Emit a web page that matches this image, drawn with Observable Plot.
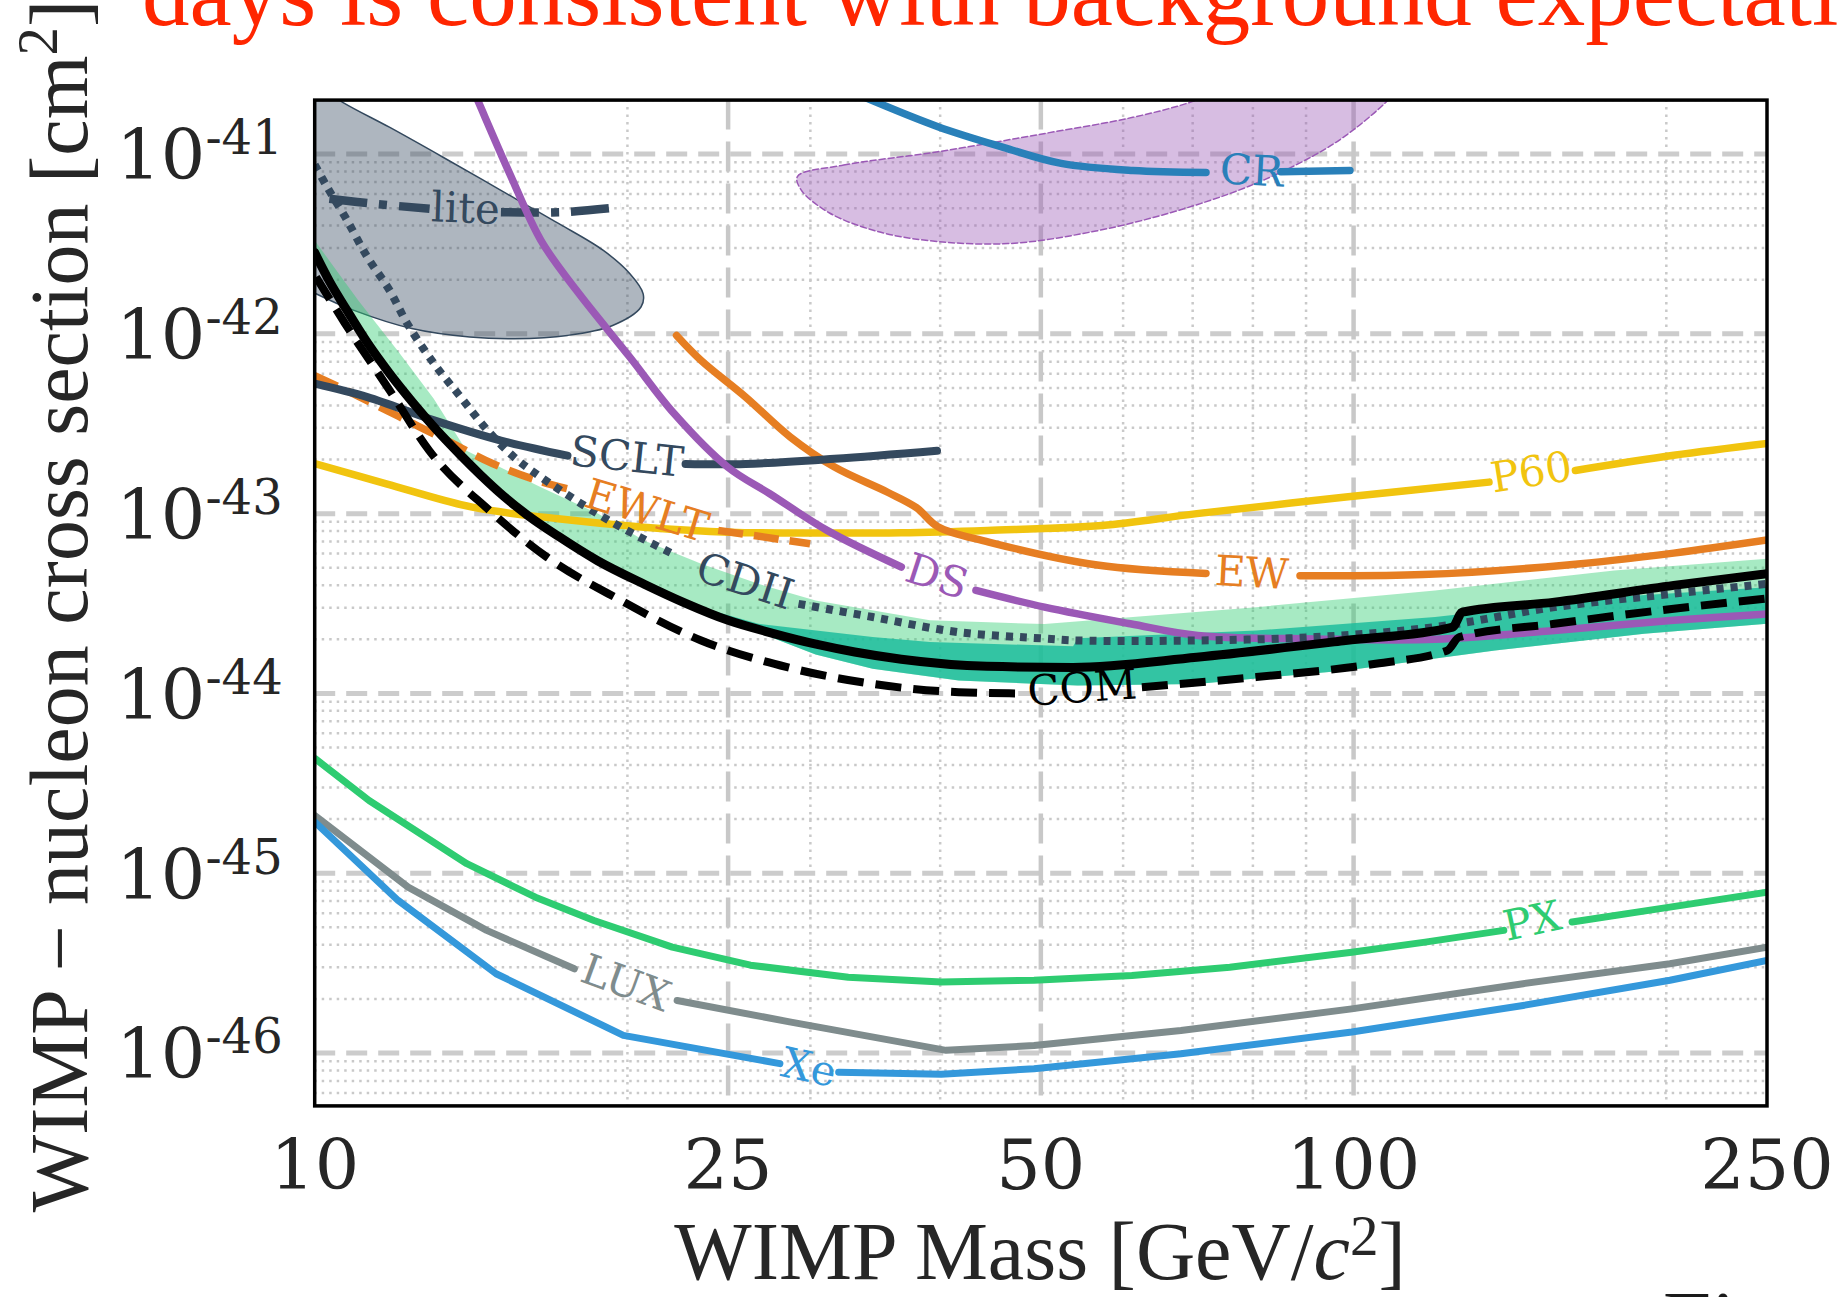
<!DOCTYPE html>
<html>
<head>
<meta charset="utf-8">
<script src="https://cdn.jsdelivr.net/npm/d3@7"></script>
<script src="https://cdn.jsdelivr.net/npm/@observablehq/plot@0.6"></script>
<style>
  html, body { margin: 0; padding: 0; background: #fff; }
  #wrap { position: relative; width: 1838px; height: 1297px; overflow: hidden; background: #fff; }
  #chart { position: absolute; left: 0; top: 0; }
  #title { position: absolute; left: 142px; top: -54px; white-space: nowrap;
           font-family: "Liberation Serif", serif; font-size: 95px; line-height: 95px; color: #ff2600; }
  #foot { position: absolute; left: 1663px; top: 1278px; white-space: nowrap;
          font-family: "Liberation Serif", serif; font-size: 87px; line-height: 87px; color: #1a1a1a; }
</style>
</head>
<body>
<div id="wrap">
  <div id="chart"></div>
  <div id="title">days is consistent with background expectations</div>
  <div id="foot">Fig</div>
</div>
<script>
// ---------------- data (WIMP mass in GeV/c^2, cross section in cm^2) ----------------
const massTicks = [10, 25, 50, 100, 250];
const massMajorGrid = [25, 50, 100];
const massMinorGrid = [20, 30, 40, 60, 70, 80, 90, 200];
const sigmaTicks = [1e-46, 1e-45, 1e-44, 1e-43, 1e-42, 1e-41];
const minorMantissas = [2, 3, 4, 5, 6, 7, 8, 9];
const minorDecades = [-47, -46, -45, -44, -43, -42, -41];

// null = break in the line (where the inline label sits)
const CR = [[33.3,2.15e-41],[39.8,1.42e-41],[46.0,1.09e-41],[52.3,8.87e-42],[61.3,8.1e-42],[72.1,7.9e-42],null,[85.1,7.98e-42],[99.2,8.1e-42]];
const DS = [[14.11,2.5e-41],[14.38,1.94e-41],[15.41,7.76e-42],[16.51,3.31e-42],[17.87,1.74e-42],[20.11,7.41e-43],[22.19,3.59e-43],[24.98,1.815e-43],[27.42,1.29e-43],[31.13,8.07e-44],[36.7,5.05e-44],null,[43.3,3.74e-44],[50.4,3.02e-44],[60.95,2.44e-44],[70.8,2.10e-44],[92.0,2.01e-44],[119.8,2.0e-44],[156.1,2.24e-44],[203.3,2.55e-44],[250,2.77e-44]];
const P60 = [[10,1.90e-43],[11.72,1.466e-43],[14.18,1.086e-43],[17.15,9.36e-44],[20.75,8.41e-44],[25.09,7.89e-44],[30.35,7.8e-44],[36.7,7.83e-44],[44.4,8.07e-44],[57.25,8.59e-44],[70.65,1.0e-43],[98.3,1.236e-43],[135.0,1.497e-43],null,[163.5,1.738e-43],[203.3,2.11e-43],[250,2.455e-43]];
const EW = [[22.3,9.8e-43],[23.55,7.11e-43],[25.99,4.45e-43],[28.69,2.67e-43],[31.65,1.815e-43],[35.6,1.315e-43],[37.95,1.08e-43],[39.8,8.45e-44],[44.55,6.95e-44],[56.65,5.18e-44],[72.1,4.65e-44],null,[88.8,4.52e-44],[116.6,4.58e-44],[160.6,5.18e-44],[203.3,6.03e-44],[250,7.13e-44]];
const EWLT = [[10,5.86e-43],[10.86,4.68e-43],[12.05,3.47e-43],[13.37,2.57e-43],[14.83,1.90e-43],[16.44,1.518e-43],[17.77,1.346e-43],null,[24.46,8.07e-44],[29.98,6.8e-44]];
const SCLT = [[10.03,5.27e-43],[11.24,4.45e-43],[13.03,3.30e-43],[15.11,2.55e-43],[17.51,2.10e-43],null,[22.75,1.89e-43],[25.99,1.89e-43],[31.65,2.02e-43],[39.72,2.24e-43]];
const lite = [[10.33,5.64e-42],[11.44,5.28e-42],[12.9,4.96e-42],null,[15.11,4.75e-42],[17.32,4.75e-42],[19.71,5.07e-42]];
const CDII = [[10,8.73e-42],[10.28,6.55e-42],[10.70,4.46e-42],[11.24,2.67e-42],[11.81,1.74e-42],[12.28,1.138e-42],[13.03,6.82e-43],[13.82,4.45e-43],[14.67,2.90e-43],[15.56,2.06e-43],[16.51,1.595e-43],[18.28,1.086e-43],[19.71,8.41e-44],[22.1,5.98e-44],null,[29.22,3.15e-44],[34.44,2.66e-44],[41.68,2.19e-44],[50.4,2.02e-44],[54.25,1.97e-44],[70.65,1.97e-44],[92.0,2.06e-44],[119.8,2.34e-44],[156.1,3.02e-44],[203.3,3.59e-44],[250,4.07e-44]];
const COM = [[10,2.83e-42],[10.34,1.945e-42],[10.70,1.40e-42],[11.24,8.91e-43],[11.80,6.04e-43],[12.43,4.15e-43],[13.09,2.94e-43],[13.79,2.14e-43],[14.45,1.637e-43],[15.21,1.248e-43],[16.02,9.82e-44],[17.15,7.5e-44],[18.72,5.47e-44],[20.76,4.05e-44],[22.73,3.18e-44],[25.0,2.55e-44],[27.6,2.16e-44],[30.38,1.88e-44],[33.1,1.70e-44],[36.7,1.55e-44],[44.36,1.416e-44],[53.7,1.396e-44],[70.65,1.59e-44],[98.2,1.97e-44],[124.6,2.34e-44],[127.2,2.83e-44],[156.1,3.22e-44],[203.3,3.99e-44],[250,4.63e-44]];
const COMexp = [[10.03,2.07e-42],[10.70,1.138e-42],[11.81,4.84e-43],[12.89,2.24e-43],[14.73,1.042e-43],[16.73,5.73e-44],[19.71,3.29e-44],[23.55,1.97e-44],[28.49,1.40e-44],[34.44,1.13e-44],[41.68,1.016e-44],[47.3,1.0e-44],null,[62.55,1.083e-44],[80.6,1.233e-44],[105.0,1.463e-44],[123.1,1.734e-44],[126.4,2.06e-44],[156.1,2.44e-44],[203.3,2.96e-44],[250,3.37e-44]];
const PX = [[10.01,4.34e-45],[11.28,2.54e-45],[14.01,1.13e-45],[16.31,7.36e-46],[18.57,5.46e-46],[22.09,3.88e-46],[26.27,3.08e-46],[32.63,2.64e-46],[40.09,2.48e-46],[49.25,2.54e-46],[61.18,2.70e-46],[76.0,3.0e-46],[99.6,3.64e-46],[117.2,4.14e-46],[139.5,4.81e-46],null,[162.3,5.35e-46],[201.6,6.48e-46],[250,7.85e-46]];
const LUX = [[10.01,2.09e-45],[12.30,8.37e-46],[14.64,4.81e-46],[17.78,2.94e-46],null,[22.33,1.96e-46],[28.65,1.49e-46],[40.53,1.035e-46],[49.25,1.10e-46],[68.2,1.335e-46],[99.6,1.76e-46],[145.6,2.43e-46],[201.6,3.14e-46],[250,3.88e-46]];
const Xe = [[10.01,1.92e-45],[12.03,7.06e-46],[14.95,2.76e-46],[19.82,1.253e-46],[28.04,8.73e-47],null,[31.94,7.83e-47],[40.09,7.61e-47],[49.25,8.18e-47],[68.2,9.9e-47],[99.6,1.309e-46],[145.6,1.84e-46],[201.6,2.54e-46],[250,3.27e-46]];

// filled regions (outline points)
const liteRegion = [[9.546,2.9e-41],[10.64,1.94e-41],[11.80,1.41e-41],[13.29,9.6e-42],[15.11,6.28e-42],[17.18,4.1e-42],[18.96,2.91e-42],[20.11,2.16e-42],[20.71,1.67e-42],[20.61,1.41e-42],[19.33,1.11e-42],[17.51,9.8e-43],[15.56,9.4e-43],[14.10,9.6e-43],[12.40,1.07e-42],[10.91,1.35e-42],[10.03,1.67e-42],[9.546,1.95e-42]];
const dsRegion = [[29.15,7.5e-42],[32.3,8.68e-42],[39.8,1.03e-41],[49.8,1.285e-41],[61.3,1.6e-41],[69.8,1.95e-41],[77.8,2.5e-41],[111.7,2.5e-41],[107.5,1.95e-41],[99.2,1.318e-41],[91.7,9.85e-42],[79.3,6.62e-42],[66.5,4.7e-42],[55.8,3.68e-42],[46.7,3.18e-42],[39.8,3.26e-42],[35.0,3.68e-42],[31.3,4.7e-42],[29.4,6.3e-42]];
const band2Upper = [[10,3.30e-42],[11.02,1.53e-42],[12.05,7.9e-43],[13.02,4.35e-43],[14.0,2.24e-43],[16.51,1.40e-43],[18.75,9.98e-44],[20.75,7.1e-44],[23.55,5.26e-44],[26.73,4.07e-44],[30.35,3.29e-44],[39.1,2.55e-44],[50.4,2.43e-44],[80.6,3.02e-44],[119.8,3.74e-44],[178.2,4.83e-44],[250,5.61e-44]];
const band2Lower = [[250,2.44e-44],[190.4,2.15e-44],[136.8,1.734e-44],[98.3,1.343e-44],[70.65,1.13e-44],[54.25,1.107e-44],[41.68,1.18e-44],[34.44,1.374e-44],[30.35,1.644e-44],[26.2,2.29e-44],[22.73,3.18e-44],[20.76,4.05e-44],[17.15,7.5e-44],[15.21,1.248e-43],[13.09,2.94e-43],[11.80,6.04e-43],[10.70,1.40e-42],[10,2.83e-42]];
const band1Upper = [[22.73,3.18e-44],[26.73,2.44e-44],[34.44,2.06e-44],[39.1,1.93e-44],[53.7,1.83e-44],[54.27,2.03e-44],[80.6,2.24e-44],[119.8,2.66e-44],[178.2,3.44e-44],[250,3.9e-44]];
const band1Lower = [[250,2.44e-44],[190.4,2.15e-44],[136.8,1.734e-44],[98.3,1.343e-44],[70.65,1.13e-44],[54.25,1.107e-44],[41.68,1.18e-44],[34.44,1.374e-44],[30.35,1.644e-44],[26.2,2.29e-44]];

// inline curve labels
const labelNames = ["lite","SCLT","EWLT","CDII","DS","CR","P60","EW","COM","PX","LUX","Xe"];
const labelMass  = [13.97, 19.97, 20.87, 25.94, 39.7, 79.8, 148.3, 79.8, 54.8, 148.6, 19.92, 29.9];
const labelSigma = [4.94e-42, 2.05e-43, 1.028e-43, 4.18e-44, 4.43e-44, 8.0e-42, 1.687e-43, 4.64e-44, 1.064e-44, 5.37e-46, 2.43e-46, 8.22e-47];

// ---------------- styles ----------------
const slate = "#34495e", orange = "#e67e22";
const lineStyle = {
  P60:    {stroke: "#f1c40f", width: 7.5},
  EW:     {stroke: orange, width: 7.5},
  EWLT:   {stroke: orange, width: 7.5, dash: "25,11"},
  SCLT:   {stroke: slate, width: 8},
  lite:   {stroke: slate, width: 8.5, dash: "38,12,8,12"},
  CR:     {stroke: "#2980b9", width: 7.5},
  DS:     {stroke: "#9b59b6", width: 7.5},
  CDII:   {stroke: slate, width: 8, dash: "7,7"},
  COM:    {stroke: "#000000", width: 9, curve: "monotone-x"},
  COMexp: {stroke: "#000000", width: 8, dash: "26,12", curve: "monotone-x"},
  PX:     {stroke: "#2ecc71", width: 7, curve: "linear"},
  LUX:    {stroke: "#7f8c8d", width: 7, curve: "linear"},
  Xe:     {stroke: "#3498db", width: 7, curve: "linear"}
};
const labelStyle = {
  lite: {color: slate, angle: 2}, SCLT: {color: slate, angle: 6}, EWLT: {color: orange, angle: 17},
  CDII: {color: slate, angle: 18}, DS: {color: "#9b59b6", angle: 18}, CR: {color: "#2980b9", angle: 3},
  P60: {color: "#f1c40f", angle: -9}, EW: {color: orange, angle: 3}, COM: {color: "#000000", angle: -4},
  PX: {color: "#2ecc71", angle: -12}, LUX: {color: "#7f8c8d", angle: 20}, Xe: {color: "#3498db", angle: 12}
};
const curves = {P60, EW, EWLT, SCLT, lite, CR, DS, CDII, COM, COMexp, PX, LUX, Xe};

// ---------------- build ----------------
const rows = pts => pts.map(p => p ? {m: p[0], s: p[1]} : {m: NaN, s: NaN});
const sigmaMinorGrid = minorDecades.flatMap(e => minorMantissas.map(k => k * Math.pow(10, e)));
const poly = (upper, lower) => rows(upper.concat(lower));

const marks = [
  Plot.ruleY(sigmaMinorGrid, {stroke: "#c9c9c9", strokeWidth: 2.5, strokeDasharray: "2.5,5", clip: true}),
  Plot.ruleX(massMinorGrid, {stroke: "#c9c9c9", strokeWidth: 2.5, strokeDasharray: "2.5,5", clip: true}),
  Plot.ruleY(sigmaTicks, {stroke: "#cccccc", strokeWidth: 5, strokeDasharray: "21,11", clip: true}),
  Plot.ruleX(massMajorGrid, {stroke: "#c8c8c8", strokeWidth: 4.5, strokeDasharray: "30,12", clip: true}),
  Plot.line(rows(liteRegion), {x: "m", y: "s", curve: "catmull-rom-closed", fill: slate, fillOpacity: 0.4, stroke: slate, strokeWidth: 1.5, clip: true}),
  Plot.line(rows(dsRegion), {x: "m", y: "s", curve: "catmull-rom-closed", fill: "#9b59b6", fillOpacity: 0.4, stroke: "#9b59b6", strokeWidth: 1.5, strokeDasharray: "6,3", clip: true}),
  Plot.line(poly(band2Upper, band2Lower), {x: "m", y: "s", curve: "linear-closed", fill: "#2ecc71", fillOpacity: 0.42, stroke: "none", clip: true}),
  Plot.line(poly(band1Upper, band1Lower), {x: "m", y: "s", curve: "linear-closed", fill: "#1abc9c", fillOpacity: 0.82, stroke: "none", clip: true})
];
for (const [name, pts] of Object.entries(curves)) {
  const st = lineStyle[name];
  marks.push(Plot.line(rows(pts), {
    x: "m", y: "s", curve: st.curve || "catmull-rom", stroke: st.stroke, strokeWidth: st.width,
    strokeDasharray: st.dash, strokeLinecap: st.dash ? "butt" : "round", strokeLinejoin: "round", clip: true
  }));
}
labelNames.forEach((name, i) => {
  marks.push(Plot.text([{m: labelMass[i], s: labelSigma[i], t: name}], {
    x: "m", y: "s", text: "t", fill: labelStyle[name].color, rotate: labelStyle[name].angle,
    fontFamily: "DejaVu Serif", fontSize: 42, textAnchor: "middle", lineAnchor: "middle"
  }));
});
marks.push(Plot.frame({stroke: "#000", strokeWidth: 3.5}));
marks.push(Plot.axisX(massTicks, {tickSize: 0, tickPadding: 33, fontSize: 70, fontFamily: "DejaVu Serif", fill: "#262626", label: null, tickFormat: d => String(d)}));
marks.push(Plot.axisY(sigmaTicks, {tickSize: 0, tickPadding: 32, fontSize: 70, fontFamily: "DejaVu Serif", fill: "#262626", label: null, dy: 3,
  tickFormat: d => "10^" + Math.round(Math.log10(d))}));

const chart = Plot.plot({
  width: 1838, height: 1297,
  marginLeft: 314.2, marginRight: 71.5, marginTop: 99.6, marginBottom: 191.6,
  style: {background: "transparent", color: "#262626", fontFamily: "DejaVu Serif"},
  x: {type: "log", domain: [10, 250]},
  y: {type: "log", domain: [Math.pow(10, -46.294), Math.pow(10, -40.70)]},
  marks
});
document.getElementById("chart").appendChild(chart);

// superscript exponents on y tick labels
const svg = d3.select(chart);
svg.selectAll('g[aria-label="y-axis tick label"] text').each(function () {
  const parts = this.textContent.split("^");
  if (parts.length === 2) {
    this.textContent = parts[0];
    d3.select(this).append("tspan").attr("dy", -25).attr("font-size", 48).text(parts[1]);
  }
});

// axis titles
svg.append("text")
  .attr("transform", "translate(1040,1279)")
  .attr("text-anchor", "middle").attr("font-family", "Liberation Serif").attr("font-size", 82).attr("fill", "#262626")
  .html('WIMP Mass [GeV/<tspan font-style="italic">c</tspan><tspan dy="-24" font-size="57">2</tspan><tspan dy="24">]</tspan>');
svg.append("text")
  .attr("transform", "translate(87,606) rotate(-90)")
  .attr("text-anchor", "middle").attr("font-family", "Liberation Serif").attr("font-size", 82).attr("fill", "#262626")
  .html('WIMP − nucleon cross section [cm<tspan dy="-30" font-size="57">2</tspan><tspan dy="30">]</tspan>');
</script>
</body>
</html>
